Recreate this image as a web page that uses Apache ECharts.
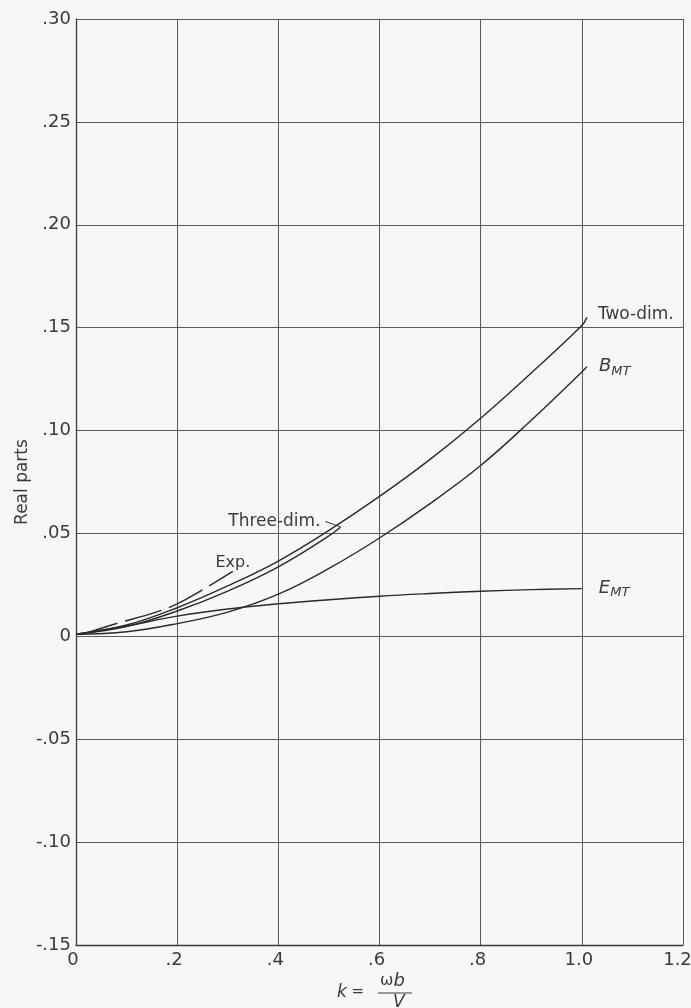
<!DOCTYPE html>
<html>
<head>
<meta charset="utf-8">
<script src="https://cdn.jsdelivr.net/npm/echarts@6/dist/echarts.min.js"></script>
<style>
html,body{margin:0;padding:0;background:#f7f7f5;overflow:hidden;}
#chart{width:691px;height:1008px;}
</style>
</head>
<body>
<div id="chart"></div>
<script>
// ---- data ----
var xTickLabels = ['0', '.2', '.4', '.6', '.8', '1.0', '1.2'];
var yTickLabels = ['-.15', '-.10', '-.05', '0', '.05', '.10', '.15', '.20', '.25', '.30'];

var kTwoDim = [0, 0.1, 0.2, 0.3, 0.4, 0.5, 0.6, 0.7, 0.8, 0.9, 1.0, 1.01];
var vTwoDim = [0.001, 0.0055, 0.0139, 0.0245, 0.0366, 0.0515, 0.068, 0.086, 0.106, 0.128, 0.151, 0.155];

var kThreeDim = [0, 0.1, 0.2, 0.3, 0.4, 0.5, 0.523];
var vThreeDim = [0.001, 0.0048, 0.0123, 0.022, 0.0338, 0.0488, 0.053];

var kBMT = [0, 0.1, 0.2, 0.3, 0.4, 0.5, 0.6, 0.7, 0.8, 0.9, 1.0, 1.01];
var vBMT = [0.001, 0.0022, 0.0062, 0.0118, 0.0205, 0.033, 0.0478, 0.0645, 0.083, 0.105, 0.1285, 0.131];

var kEMT = [0, 0.1, 0.2, 0.3, 0.4, 0.5, 0.6, 0.7, 0.8, 0.9, 1.0];
var vEMT = [0.001, 0.005, 0.0098, 0.0133, 0.0158, 0.0178, 0.0195, 0.0208, 0.0219, 0.0227, 0.0232];

var kExp = [0.01, 0.085, 0.154, 0.2, 0.25, 0.31];
var vExp = [0.0008, 0.0066, 0.0114, 0.0158, 0.0226, 0.0316];

var threeDimLeader = [[0.493, 0.0558], [0.523, 0.0532]];

// ---- build ----
function pairs(k, v) { return k.map(function (x, i) { return [x, v[i]]; }); }

var ink = '#2a2a2a';
var txt = '#3a3a3a';
var font = 'DejaVu Sans';

function curve(name, k, v, extra) {
  var s = {
    name: name, type: 'line', data: pairs(k, v), smooth: 0.4,
    showSymbol: false, symbol: 'none', silent: true,
    lineStyle: { color: ink, width: 1.4 }
  };
  for (var key in extra) s[key] = extra[key];
  return s;
}

var chart = echarts.init(document.getElementById('chart'));
chart.setOption({
  backgroundColor: '#f7f7f5',
  animation: false,
  grid: { left: 76, right: 8, top: 19, bottom: 63, containLabel: false, outerBoundsMode: 'none' },
  xAxis: {
    type: 'value', min: 0, max: 1.2, interval: 0.2,
    axisLine: { onZero: false, lineStyle: { color: '#3a3a3a', width: 1.3 } },
    axisTick: { show: false },
    splitLine: { show: true, lineStyle: { color: '#5a5a5a', width: 1 } },
    axisLabel: {
      margin: 6, color: txt, fontFamily: font, fontSize: 18,
      formatter: function (v) {
        var i = Math.round(v / 0.2);
        return (i === xTickLabels.length - 1 ? '{e|' : '{n|') + xTickLabels[i] + '}';
      },
      rich: {
        n: { fontFamily: font, fontSize: 18, color: txt, padding: [0, 6, 0, 0] },
        e: { fontFamily: font, fontSize: 18, color: txt, padding: [0, 11, 0, 0] }
      }
    }
  },
  yAxis: {
    type: 'value', min: -0.15, max: 0.30, interval: 0.05,
    name: 'Real parts', nameLocation: 'middle', nameRotate: 90, nameGap: 45, nameMoveOverlap: false,
    nameTextStyle: { color: txt, fontFamily: font, fontSize: 17 },
    axisLine: { show: true, lineStyle: { color: '#3a3a3a', width: 1.3 } },
    axisTick: { show: false },
    splitLine: { show: true, lineStyle: { color: '#5a5a5a', width: 1 } },
    axisLabel: {
      margin: 5, color: txt, fontFamily: font, fontSize: 18,
      formatter: function (v) { return yTickLabels[Math.round((v + 0.15) / 0.05)]; }
    }
  },
  series: [
    curve('Two-dim.', kTwoDim, vTwoDim, {
      endLabel: { show: true, formatter: 'Two-dim.', distance: 11, offset: [0, -3],
        color: txt, fontFamily: font, fontSize: 17 }
    }),
    curve('Three-dim.', kThreeDim, vThreeDim, {
      markPoint: {
        symbol: 'circle', symbolSize: 0, silent: true,
        data: [{ coord: [kThreeDim[kThreeDim.length - 1], vThreeDim[vThreeDim.length - 1]], value: 'Three-dim.' }],
        label: { show: true, position: 'left', distance: 20, offset: [0, -6], formatter: 'Three-dim.',
          color: txt, fontFamily: font, fontSize: 17 }
      },
      markLine: {
        symbol: 'none', silent: true, label: { show: false },
        lineStyle: { color: ink, width: 1, type: 'solid' },
        data: [[{ coord: threeDimLeader[0] }, { coord: threeDimLeader[1] }]]
      }
    }),
    curve('B_MT', kBMT, vBMT, {
      endLabel: { show: true, formatter: '{b|B}{s|MT}', distance: 12, offset: [0, 0],
        rich: {
          b: { fontStyle: 'italic', fontFamily: font, fontSize: 18, color: txt, lineHeight: 22 },
          s: { fontStyle: 'italic', fontFamily: font, fontSize: 13, color: txt, lineHeight: 12, verticalAlign: 'bottom' }
        } }
    }),
    curve('E_MT', kEMT, vEMT, {
      endLabel: { show: true, formatter: '{b|E}{s|MT}', distance: 17, offset: [0, 0],
        rich: {
          b: { fontStyle: 'italic', fontFamily: font, fontSize: 18, color: txt, lineHeight: 22 },
          s: { fontStyle: 'italic', fontFamily: font, fontSize: 13, color: txt, lineHeight: 12, verticalAlign: 'bottom' }
        } }
    }),
    curve('Exp.', kExp, vExp, {
      lineStyle: { color: ink, width: 1.4, type: [38, 8] },
      markPoint: {
        symbol: 'circle', symbolSize: 0, silent: true,
        data: [{ coord: [kExp[kExp.length - 1], vExp[vExp.length - 1]], value: 'Exp.' }],
        label: { show: true, position: 'top', distance: 4, offset: [0, 4], formatter: 'Exp.',
          color: txt, fontFamily: font, fontSize: 16 }
      }
    })
  ],
  graphic: [
    { type: 'text', left: 337, top: 984,
      style: { text: '{i|k} =', rich: { i: { fontStyle: 'italic', fontFamily: font, fontSize: 17, fill: txt } },
        fontFamily: font, fontSize: 15, fill: txt } },
    { type: 'text', left: 380, top: 972,
      style: { text: 'ω{i|b}', rich: { i: { fontStyle: 'italic', fontFamily: font, fontSize: 18, fill: txt } },
        fontFamily: font, fontSize: 16, fill: txt } },
    { type: 'line', shape: { x1: 378, y1: 993, x2: 412, y2: 993 }, style: { stroke: txt, lineWidth: 1 } },
    { type: 'text', left: 393, top: 994,
      style: { text: 'V', fontStyle: 'italic', fontFamily: font, fontSize: 17, fill: txt } }
  ]
});
</script>
</body>
</html>
